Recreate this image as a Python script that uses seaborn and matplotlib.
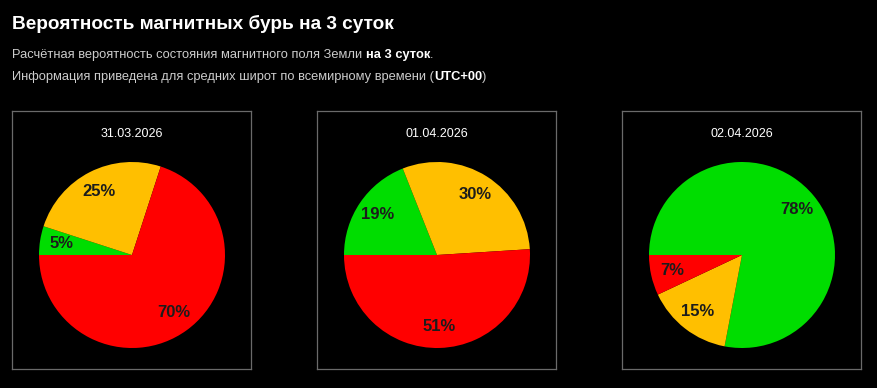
import matplotlib
matplotlib.use('Agg')
import matplotlib.pyplot as plt
import seaborn as sns

# DATA
dates = ['31.03.2026', '01.04.2026', '02.04.2026']
green_pct = [5, 19, 78]
yellow_pct = [25, 30, 15]
red_pct = [70, 51, 7]

title = 'Вероятность магнитных бурь на 3 суток'
line1 = [('Расчётная вероятность состояния магнитного поля Земли ', False), ('на 3 суток', True), ('.', False)]
line2 = [('Информация приведена для средних широт по всемирному времени (', False), ('UTC+00', True), (')', False)]

colors = ['#00dd00', '#ffbf00', '#ff0000']

sns.set_theme(style='dark', rc={'figure.facecolor': 'black', 'axes.facecolor': 'black'})
plt.rcParams['font.family'] = ['Liberation Sans', 'DejaVu Sans']

W, H = 877, 388
fig = plt.figure(figsize=(W / 100, H / 100), dpi=100)


def fx(x):
    return x / W


def fy(y):
    return 1 - y / H


#Title
fig.text(fx(12), fy(23.5), title, color='white', fontsize=13.7, fontweight='bold',
         va='center', ha='left')

#Subtitle lines with bold parts
renderer = fig.canvas.get_renderer()
for y, parts in [(55, line1), (77, line2)]:
    x = 12
    for txt, bold in parts:
        t = fig.text(fx(x), fy(y), txt, color='white' if bold else '#cccccc',
                     fontsize=9.3, fontweight='bold' if bold else 'normal',
                     va='center', ha='left')
        bb = t.get_window_extent(renderer)
        x += bb.width

#Pie panels
box_left = [12, 317, 622]
box_w, box_top, box_h = 239, 111, 258
for i in range(3):
    ax = fig.add_axes([fx(box_left[i]), fy(box_top + box_h), box_w / W, box_h / H])
    vals = [green_pct[i], yellow_pct[i], red_pct[i]]
    wedges, texts, autotexts = ax.pie(
        vals, colors=colors, startangle=180, counterclock=False,
        center=(120, 114), radius=93, autopct=lambda p: f'{p:.0f}%',
        pctdistance=0.77, wedgeprops={'linewidth': 0},
        textprops={'fontsize': 12, 'fontweight': 'bold', 'color': '#1c1c1c'})
    ax.set_frame_on(True)
    ax.set_xlim(0, box_w)
    ax.set_ylim(0, box_h)
    ax.set_aspect('auto')
    ax.set_xticks([])
    ax.set_yticks([])
    ax.text(120, box_h - 23, dates[i], color='white', fontsize=9, ha='center', va='center')
    for s in ax.spines.values():
        s.set_visible(True)
        s.set_color('#6a6a6a')
        s.set_linewidth(0.9)

fig.savefig('out.png', dpi=100, facecolor='black')
